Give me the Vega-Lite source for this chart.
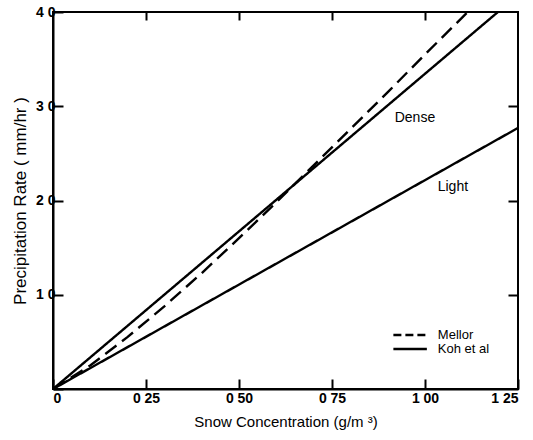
{
  "$schema": "https://vega.github.io/schema/vega-lite/v6.json",
  "width": 465,
  "height": 377,
  "autosize": {"type": "none"},
  "padding": {"left": 53, "top": 12, "right": 15, "bottom": 51},
  "background": "white",
  "config": {
    "font": "Liberation Sans",
    "view": {"stroke": "black", "strokeWidth": 2},
    "axis": {
      "domainColor": "black",
      "domainWidth": 2,
      "tickColor": "black",
      "tickWidth": 2,
      "tickSize": -10,
      "grid": false,
      "labelColor": "black",
      "labelFontSize": 14,
      "labelFontWeight": "bold",
      "titleColor": "black",
      "titleFontSize": 15,
      "titleFontWeight": "normal"
    }
  },
  "datasets": {
    "curves": [
      {"curve": "Dense", "source": "Koh et al", "conc": 0, "rate": 0},
      {"curve": "Dense", "source": "Koh et al", "conc": 1.196, "rate": 4.0},
      {"curve": "Light", "source": "Koh et al", "conc": 0, "rate": 0},
      {"curve": "Light", "source": "Koh et al", "conc": 1.25, "rate": 2.77},
      {"curve": "Mellor", "source": "Mellor", "conc": 0, "rate": 0},
      {"curve": "Mellor", "source": "Mellor", "conc": 0.1, "rate": 0.25},
      {"curve": "Mellor", "source": "Mellor", "conc": 0.2, "rate": 0.55},
      {"curve": "Mellor", "source": "Mellor", "conc": 0.3, "rate": 0.88},
      {"curve": "Mellor", "source": "Mellor", "conc": 0.4, "rate": 1.23},
      {"curve": "Mellor", "source": "Mellor", "conc": 0.5, "rate": 1.6},
      {"curve": "Mellor", "source": "Mellor", "conc": 0.6, "rate": 1.98},
      {"curve": "Mellor", "source": "Mellor", "conc": 0.7, "rate": 2.37},
      {"curve": "Mellor", "source": "Mellor", "conc": 0.8, "rate": 2.76},
      {"curve": "Mellor", "source": "Mellor", "conc": 0.9, "rate": 3.15},
      {"curve": "Mellor", "source": "Mellor", "conc": 1.0, "rate": 3.55},
      {"curve": "Mellor", "source": "Mellor", "conc": 1.115, "rate": 4.0}
    ],
    "curveLabels": [
      {"text": "Dense", "conc": 0.973, "rate": 2.88},
      {"text": "Light", "conc": 1.075, "rate": 2.14}
    ],
    "key": [
      {"source": "Mellor", "conc": 0.915, "conc2": 1.005, "rate": 0.573},
      {"source": "Koh et al", "conc": 0.915, "conc2": 1.005, "rate": 0.424}
    ]
  },
  "layer": [
    {
      "data": {"name": "curves"},
      "mark": {"type": "line", "color": "black", "strokeWidth": 2.4, "clip": true},
      "encoding": {
        "x": {
          "field": "conc", "type": "quantitative",
          "scale": {"domain": [0, 1.25], "nice": false},
          "axis": {
            "values": [0, 0.25, 0.5, 0.75, 1.0, 1.25],
            "labelExpr": "datum.value == 0 ? '0' : replace(format(datum.value, '.2f'), '.', ' ')",
            "labelPadding": 12,
            "title": "Snow Concentration (g/m ³)",
            "titlePadding": 9
          }
        },
        "y": {
          "field": "rate", "type": "quantitative",
          "scale": {"domain": [0, 4], "nice": false},
          "axis": {
            "values": [0, 1, 2, 3, 4],
            "labelExpr": "datum.value == 0 ? '' : replace(format(datum.value, '.1f'), '.', ' ')",
            "labelPadding": 8,
            "title": "Precipitation Rate ( mm/hr )",
            "titleFontSize": 17,
            "titlePadding": 6
          }
        },
        "detail": {"field": "curve"},
        "strokeDash": {
          "field": "source", "type": "nominal",
          "scale": {"domain": ["Mellor", "Koh et al"], "range": [[14, 7], [1, 0]]},
          "legend": null
        }
      }
    },
    {
      "data": {"name": "curveLabels"},
      "mark": {"type": "text", "fontSize": 14, "color": "black", "align": "center", "baseline": "middle"},
      "encoding": {
        "x": {"field": "conc", "type": "quantitative", "axis": null},
        "y": {"field": "rate", "type": "quantitative", "axis": null},
        "text": {"field": "text"}
      }
    },
    {
      "data": {"name": "key"},
      "mark": {"type": "rule", "color": "black", "strokeWidth": 2.4},
      "encoding": {
        "x": {"field": "conc", "type": "quantitative", "axis": null},
        "x2": {"field": "conc2"},
        "y": {"field": "rate", "type": "quantitative", "axis": null},
        "strokeDash": {
          "field": "source", "type": "nominal",
          "scale": {"domain": ["Mellor", "Koh et al"], "range": [[8, 4], [1, 0]]},
          "legend": null
        }
      }
    },
    {
      "data": {"name": "key"},
      "mark": {"type": "text", "fontSize": 13, "color": "black", "align": "left", "baseline": "middle", "dx": 11},
      "encoding": {
        "x": {"field": "conc2", "type": "quantitative", "axis": null},
        "y": {"field": "rate", "type": "quantitative", "axis": null},
        "text": {"field": "source"}
      }
    },
    {
      "data": {"values": [{"conc": 0, "rate": 0}]},
      "mark": {"type": "point", "opacity": 0},
      "encoding": {
        "x": {
          "field": "conc", "type": "quantitative",
          "axis": {"orient": "top", "values": [0.25, 0.5, 0.75, 1.0], "labels": false, "domain": false, "title": null, "tickSize": -8}
        },
        "y": {
          "field": "rate", "type": "quantitative",
          "axis": {"orient": "right", "values": [1, 2, 3], "labels": false, "domain": false, "title": null, "tickSize": -10}
        }
      }
    }
  ],
  "resolve": {"axis": {"x": "independent", "y": "independent"}, "scale": {"strokeDash": "independent"}}
}
